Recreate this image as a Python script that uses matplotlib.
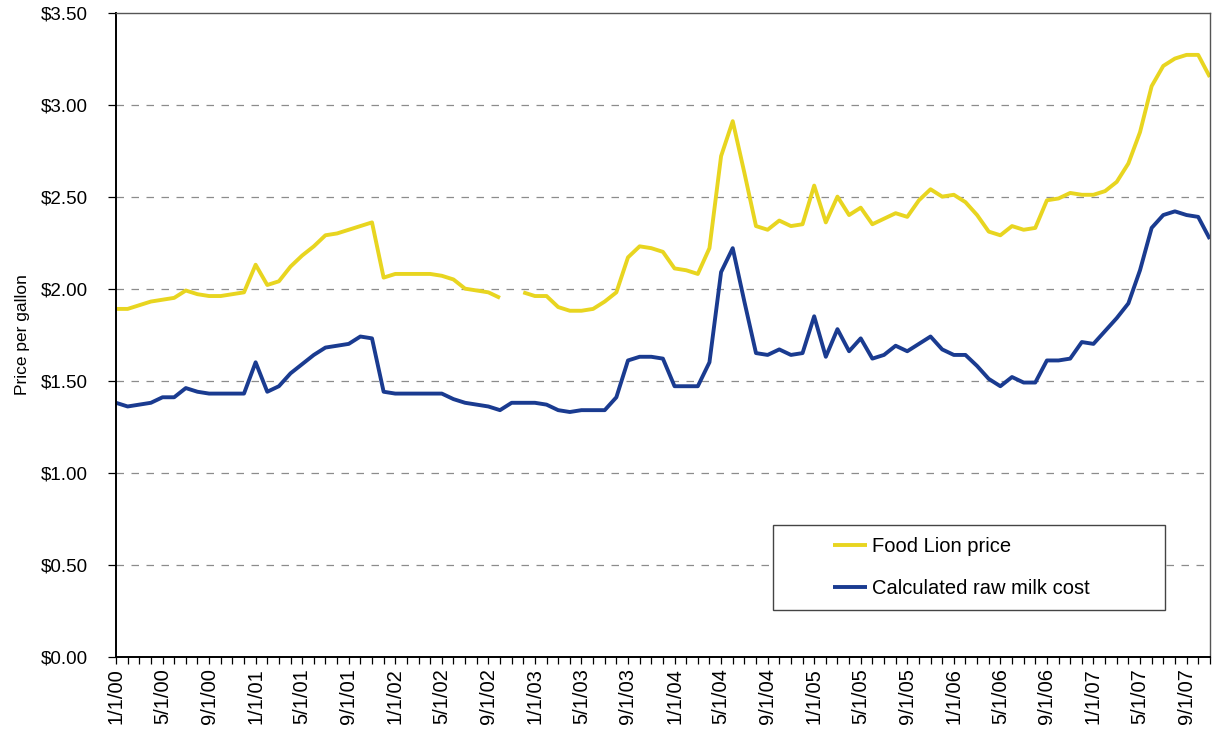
import numpy as np
import matplotlib.pyplot as plt
from matplotlib.patches import Rectangle
from matplotlib.ticker import FuncFormatter, MultipleLocator

# monthly series, Jan 2000 .. Nov 2007
food_lion = [1.89, 1.89, 1.91, 1.93, 1.94, 1.95, 1.99, 1.97, 1.96, 1.96, 1.97, 1.98,
             2.13, 2.02, 2.04, 2.12, 2.18, 2.23, 2.29, 2.30, 2.32, 2.34, 2.36, 2.06,
             2.08, 2.08, 2.08, 2.08, 2.07, 2.05, 2.00, 1.99, 1.98, 1.95, np.nan, 1.98,
             1.96, 1.96, 1.90, 1.88, 1.88, 1.89, 1.93, 1.98, 2.17, 2.23, 2.22, 2.20,
             2.11, 2.10, 2.08, 2.22, 2.72, 2.91, 2.63, 2.34, 2.32, 2.37, 2.34, 2.35,
             2.56, 2.36, 2.50, 2.40, 2.44, 2.35, 2.38, 2.41, 2.39, 2.48, 2.54, 2.50,
             2.51, 2.47, 2.40, 2.31, 2.29, 2.34, 2.32, 2.33, 2.48, 2.49, 2.52, 2.51,
             2.51, 2.53, 2.58, 2.68, 2.85, 3.10, 3.21, 3.25, 3.27, 3.27, 3.15]

raw_milk = [1.38, 1.36, 1.37, 1.38, 1.41, 1.41, 1.46, 1.44, 1.43, 1.43, 1.43, 1.43,
            1.60, 1.44, 1.47, 1.54, 1.59, 1.64, 1.68, 1.69, 1.70, 1.74, 1.73, 1.44,
            1.43, 1.43, 1.43, 1.43, 1.43, 1.40, 1.38, 1.37, 1.36, 1.34, 1.38, 1.38,
            1.38, 1.37, 1.34, 1.33, 1.34, 1.34, 1.34, 1.41, 1.61, 1.63, 1.63, 1.62,
            1.47, 1.47, 1.47, 1.60, 2.09, 2.22, 1.93, 1.65, 1.64, 1.67, 1.64, 1.65,
            1.85, 1.63, 1.78, 1.66, 1.73, 1.62, 1.64, 1.69, 1.66, 1.70, 1.74, 1.67,
            1.64, 1.64, 1.58, 1.51, 1.47, 1.52, 1.49, 1.49, 1.61, 1.61, 1.62, 1.71,
            1.70, 1.77, 1.84, 1.92, 2.10, 2.33, 2.40, 2.42, 2.40, 2.39, 2.27]

date_labels = ["1/1/00", "5/1/00", "9/1/00", "1/1/01", "5/1/01", "9/1/01",
               "1/1/02", "5/1/02", "9/1/02", "1/1/03", "5/1/03", "9/1/03",
               "1/1/04", "5/1/04", "9/1/04", "1/1/05", "5/1/05", "9/1/05",
               "1/1/06", "5/1/06", "9/1/06", "1/1/07", "5/1/07", "9/1/07"]

plt.rcParams['font.family'] = ['Liberation Sans', 'DejaVu Sans']

months = np.arange(len(food_lion))
yellow = '#e8d520'
blue = '#1a3b90'

fig = plt.figure(figsize=(12.12, 7.38), dpi=100)
ax = fig.add_axes([0.0957, 0.110, 0.9025, 0.873])

l1, = ax.plot(months, food_lion, color=yellow, lw=2.8, solid_capstyle='butt',
              label='Food Lion price')
l2, = ax.plot(months, raw_milk, color=blue, lw=2.8, solid_capstyle='butt',
              label='Calculated raw milk cost')

ax.set_xlim(0, len(months) - 1)
ax.set_ylim(0, 3.5)
ax.yaxis.set_major_locator(MultipleLocator(0.5))
ax.yaxis.set_major_formatter(FuncFormatter(lambda v, p: '${:.2f}'.format(v)))
for v in np.arange(0.5, 3.01, 0.5):
    ax.axhline(v, color='#8c8c8c', lw=0.9, ls=(0, (6, 6)), zorder=0)

ax.set_xticks(np.arange(0, len(months), 4))
ax.set_xticklabels(date_labels, rotation=90, fontsize=14.5)
ax.set_xticks(months, minor=True)
ax.tick_params(axis='x', which='both', direction='out', length=5, width=0.9, pad=3)
ax.tick_params(axis='y', direction='out', length=6, width=0.9, labelsize=13.5, pad=14)

ax.set_ylabel('Price per gallon', fontsize=12.5, labelpad=8)

ax.spines['left'].set_linewidth(1.4)
ax.spines['bottom'].set_linewidth(1.4)
for s in ('top', 'right'):
    ax.spines[s].set_color('#555555')
    ax.spines[s].set_linewidth(1.0)

# legend box drawn a bit wider than its entries
ax.add_patch(Rectangle((0.6005, 0.073), 0.3585, 0.132, transform=ax.transAxes,
                       facecolor='white', edgecolor='#444444', lw=1.0, zorder=3))
leg = ax.legend(handles=[l1, l2], loc='upper left', bbox_to_anchor=(0.639, 0.214),
                frameon=False, fontsize=14.5, handlelength=1.7, handletextpad=0.25,
                labelspacing=1.15)
leg.set_zorder(4)

fig.savefig('out.png', dpi=100)
